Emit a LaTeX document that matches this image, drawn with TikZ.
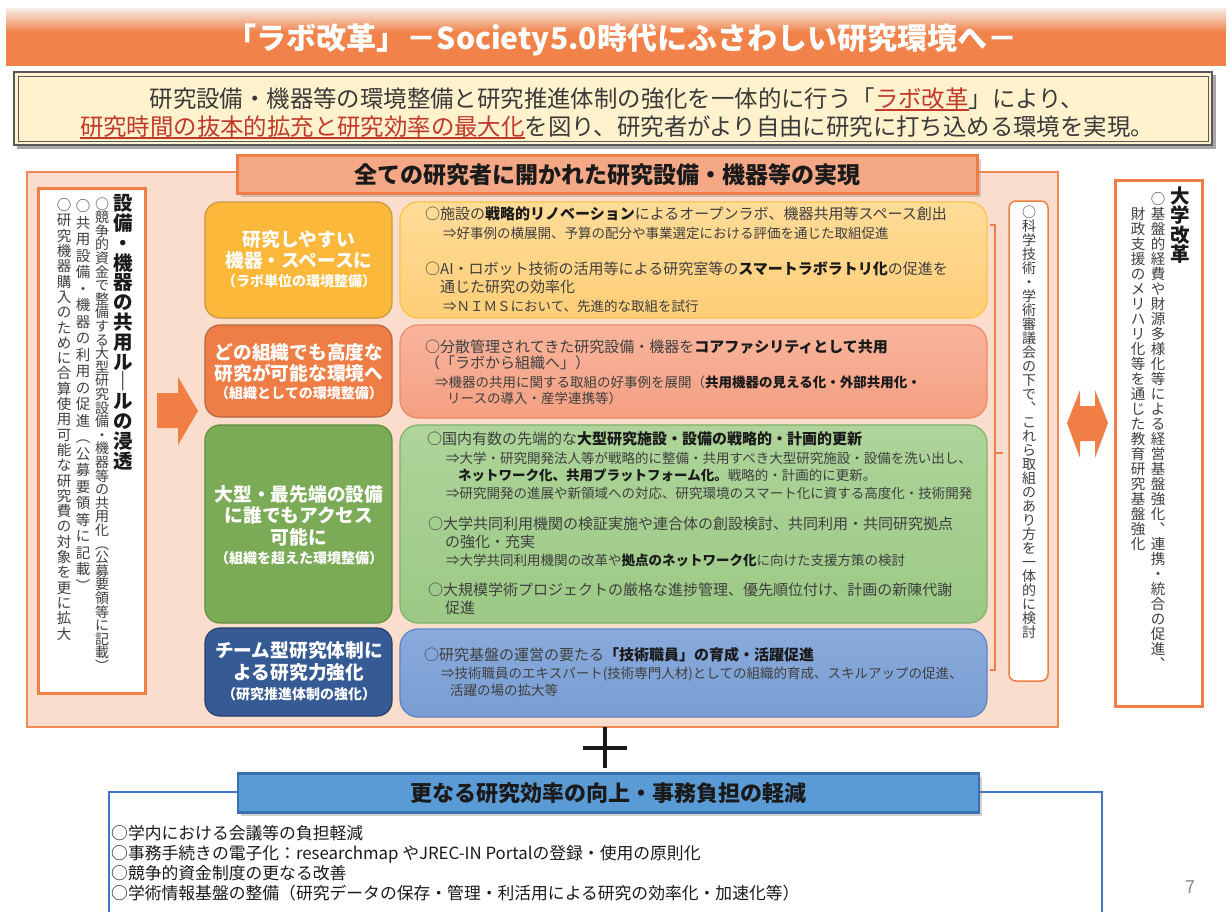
\documentclass[tikz,border=0pt]{standalone}
\usepackage{fontspec}
\setmainfont{Noto Sans CJK JP}
\usetikzlibrary{shadows}

\definecolor{titleor}{HTML}{F0824A}
\definecolor{titletop}{HTML}{F7EFEA}
\definecolor{subfill}{HTML}{FFF2CC}
\definecolor{subline}{HTML}{595959}
\definecolor{subred}{HTML}{C0392B}
\definecolor{subtxt}{HTML}{3A3A3A}
\definecolor{panelfill}{HTML}{FADDCD}
\definecolor{panelline}{HTML}{F08A55}
\definecolor{hdrfill}{HTML}{F4A886}
\definecolor{hdrline}{HTML}{EF7B45}
\definecolor{orline}{HTML}{F07E45}
\definecolor{lyel}{HTML}{FBB83A}\definecolor{lyelb}{HTML}{C9973A}
\definecolor{lorg}{HTML}{EF7D46}\definecolor{lorgb}{HTML}{B5653F}
\definecolor{lgrn}{HTML}{7BAB56}\definecolor{lgrnb}{HTML}{5E8C42}
\definecolor{lblu}{HTML}{355A94}\definecolor{lblub}{HTML}{243F6A}
\definecolor{ryelt}{HTML}{FFDC98}\definecolor{ryelbt}{HTML}{FFCE77}\definecolor{ryelb}{HTML}{FFC247}
\definecolor{rsalt}{HTML}{F8B59C}\definecolor{rsalbt}{HTML}{F49F82}\definecolor{rsalb}{HTML}{EE8B68}
\definecolor{rgrnt}{HTML}{AED49A}\definecolor{rgrnbt}{HTML}{9CC985}\definecolor{rgrnb}{HTML}{7FB366}
\definecolor{rblut}{HTML}{89AADB}\definecolor{rblubt}{HTML}{7A9ED3}\definecolor{rblub}{HTML}{5B84C4}
\definecolor{txtgray}{HTML}{3F3F3F}
\definecolor{txtdark}{HTML}{1A1A1A}
\definecolor{bhdrfill}{HTML}{5B9BD5}
\definecolor{bhdrline}{HTML}{3A6FB0}
\definecolor{bline}{HTML}{4472C4}
\definecolor{pagegray}{HTML}{8C8C8C}

% vertical (tategaki) stacking of characters
\newdimen\vtstep
\def\vtend{VTEND}
\def\vtchar#1{\hbox to\vtstep{\hss\vrule height .88\vtstep depth .12\vtstep width 0pt\relax #1\hss}}
\def\vtaux#1{\ifx#1\vtend\let\vtnext\relax\else\vtchar{#1}\let\vtnext\vtaux\fi\vtnext}
\newcommand\vtext[2]{\vtstep=#1\relax\vbox{\offinterlineskip\vtaux#2\vtend}}

\newcommand\bk[1]{{\bfseries\color{txtdark}#1}}
\newcommand\redul[1]{\setbox0=\hbox{\textcolor{subred}{#1}}\leavevmode\rlap{\textcolor{subred}{\rule[-0.14em]{\wd0}{0.07em}}}\box0}

\tikzset{
 rl/.style={anchor=base west, inner sep=0pt, text=txtgray, font=\fontsize{15}{18}\selectfont},
 rs/.style={rl, font=\fontsize{13.5}{16}\selectfont},
 wl/.style={inner sep=0pt, text=white, font=\bfseries\fontsize{18.7}{22}\selectfont},
 ws/.style={wl, font=\bfseries\fontsize{14}{17}\selectfont},
 vt/.style={anchor=north, inner sep=0pt, text=txtgray},
 bl/.style={anchor=base west, inner sep=0pt, text=txtdark, font=\fontsize{16.8}{20}\selectfont},
 subt/.style={inner sep=0pt, text=subtxt, font=\fontsize{23.4}{26}\selectfont},
 lbox/.style={line width=1.2pt, rounded corners=15pt},
 rbox/.style={line width=1.2pt, rounded corners=18pt},
 hshadow/.style={drop shadow={shadow xshift=3pt, shadow yshift=-3pt, opacity=0.35}},
}

\begin{document}
\begin{tikzpicture}[x=1pt,y=-1pt]
\useasboundingbox (0,0) rectangle (1229,911);
\fill[white] (0,0) rectangle (1229,911);

% ---- title bar
\shade[top color=titletop, bottom color=titleor] (6,8) rectangle (1226,32);
\fill[titleor] (6,31.5) rectangle (1226,66);
\node[inner sep=0pt, text=white, font=\bfseries\fontsize{30}{34}\selectfont] (title) at (622,40)
  {「ラボ改革」－Society5.0時代にふさわしい研究環境へ－};

% ---- subtitle box
\fill[black!35] (17,75) rectangle (1216,149);
\draw[subline, line width=2pt, fill=subfill] (14,72) rectangle (1212,145);
\draw[subline, line width=0.8pt] (18,76) rectangle (1208,141);
\node[subt] (sub1) at (617,99) {研究設備・機器等の環境整備と研究推進体制の強化を一体的に行う「\redul{ラボ改革}」により、};
\node[subt] (sub2) at (617,127) {\redul{研究時間の抜本的拡充と研究効率の最大化}を図り、研究者がより自由に研究に打ち込める環境を実現。};

% ---- main panel
\draw[panelline, line width=1.5pt, fill=panelfill] (27,172) rectangle (1058,727);
\node[draw=hdrline, line width=3pt, fill=hdrfill, minimum width=740pt, minimum height=38pt, hshadow,
      inner sep=0pt, text=txtdark, font=\bfseries\fontsize{23}{26}\selectfont] (hdr) at (607.5,174.5)
  {全ての研究者に開かれた研究設備・機器等の実現};

% ---- left vertical box
\draw[orline, line width=3pt, fill=white] (38,188) rectangle (145,693);
\node[vt, text=txtdark, font=\bfseries\fontsize{19.5}{20}\selectfont] (lvt0) at (123,193) {\vtext{19.8pt}{設備・機器の共用ル｜ルの浸透}};
\node[vt, font=\fontsize{14}{14}\selectfont] (lvt1) at (102,197) {\vtext{13.6pt}{○競争的資金で整備する大型研究設備・機器等の共用化︵公募要領等に記載︶}};
\node[vt, font=\fontsize{14.5}{15}\selectfont] (lvt2) at (83,197) {\vtext{16.5pt}{○共用設備・機器の利用の促進︵公募要領等に記載︶}};
\node[vt, font=\fontsize{14.5}{15}\selectfont] (lvt3) at (64,197) {\vtext{15.3pt}{○研究機器購入のために合算使用可能な研究費の対象を更に拡大}};

% arrow to the right
\fill[orline] (157,393) -- (178,393) -- (178,377) -- (198,411) -- (178,445) -- (178,428) -- (157,428) -- cycle;

% ---- left coloured boxes
\draw[lbox, draw=lyelb, fill=lyel] (205,202) rectangle (392,318);
\draw[lbox, draw=lorgb, fill=lorg] (205,325) rectangle (392,417);
\draw[lbox, draw=lgrnb, fill=lgrn] (205,425) rectangle (392,623);
\draw[lbox, draw=lblub, fill=lblu] (205,628) rectangle (392,716);

\node[wl] (y1) at (299,239) {研究しやすい};
\node[wl] (y2) at (299,260) {機器・スペースに};
\node[ws] (y3) at (299,281) {（ラボ単位の環境整備）};
\node[wl] (o1) at (299,352) {どの組織でも高度な};
\node[wl] (o2) at (299,373) {研究が可能な環境へ};
\node[ws] (o3) at (299,393) {（組織としての環境整備）};
\node[wl] (g1) at (299,494) {大型・最先端の設備};
\node[wl] (g2) at (299,515) {に誰でもアクセス};
\node[wl] (g3) at (299,537) {可能に};
\node[ws] (g4) at (299,558) {（組織を超えた環境整備）};
\node[wl] (b1) at (299,650) {チーム型研究体制に};
\node[wl] (b2) at (299,672) {よる研究力強化};
\node[ws] (b3) at (299,694) {（研究推進体制の強化）};

% ---- right content boxes
\shadedraw[rbox, top color=ryelt, bottom color=ryelbt, draw=ryelb] (400,202) rectangle (987,318);
\shadedraw[rbox, top color=rsalt, bottom color=rsalbt, draw=rsalb] (400,325) rectangle (987,418);
\shadedraw[rbox, top color=rgrnt, bottom color=rgrnbt, draw=rgrnb] (400,425) rectangle (987,623);
\shadedraw[rbox, top color=rblut, bottom color=rblubt, draw=rblub] (400,629) rectangle (987,717);

\node[rl] (ry1) at (425,219.7) {○施設の\bk{戦略的リノベーション}によるオープンラボ、機器共用等スペース創出};
\node[rs] (ry2) at (443,238.1) {⇒好事例の横展開、予算の配分や事業選定における評価を通じた取組促進};
\node[rl] (ry3) at (425,274.7) {○AI・ロボット技術の活用等による研究室等の\bk{スマートラボラトリ化}の促進を};
\node[rl] (ry4) at (440,292.7) {通じた研究の効率化};
\node[rs] (ry5) at (443,311.1) {⇒ＮＩＭＳにおいて、先進的な取組を試行};

\node[rl] (rs1) at (425,352.7) {○分散管理されてきた研究設備・機器を\bk{コアファシリティとして共用}};
\node[rl] (rs2) at (425,368.7) {（「ラボから組織へ」）};
\node[rs] (rs3) at (435,387.1) {⇒機器の共用に関する取組の好事例を展開（\bk{共用機器の見える化・外部共用化・}};
\node[rs] (rs4) at (447,403.1) {リースの導入・産学連携等）};

\node[rl] (rg1) at (427,444.7) {○国内有数の先端的な\bk{大型研究施設・設備の戦略的・計画的更新}};
\node[rs] (rg2) at (446,463.1) {⇒大学・研究開発法人等が戦略的に整備・共用すべき大型研究施設・設備を洗い出し、};
\node[rs] (rg3) at (458,480.1) {\bk{ネットワーク化、共用プラットフォーム化。}戦略的・計画的に更新。};
\node[rs] (rg4) at (446,498.1) {⇒研究開発の進展や新領域への対応、研究環境のスマート化に資する高度化・技術開発};
\node[rl] (rg5) at (428,529.7) {○大学共同利用機関の検証実施や連合体の創設検討、共同利用・共同研究拠点};
\node[rl] (rg6) at (445,547.7) {の強化・充実};
\node[rs] (rg7) at (446,565.1) {⇒大学共同利用機関の改革や\bk{拠点のネットワーク化}に向けた支援方策の検討};
\node[rl] (rg8) at (428,595.7) {○大規模学術プロジェクトの厳格な進捗管理、優先順位付け、計画の新陳代謝};
\node[rl] (rg9) at (445,613.7) {促進};

\node[rl] (rb1) at (424,660.7) {○研究基盤の運営の要たる\bk{「技術職員」の育成・活躍促進}};
\node[rs] (rb2) at (441,678.1) {⇒技術職員のエキスパート(技術専門人材)としての組織的育成、スキルアップの促進、};
\node[rs] (rb3) at (450,695.1) {活躍の場の拡大等};

% ---- bracket
\draw[orline, line width=1.2pt] (990,225) -- (995,225) -- (995,670) -- (990,670);
\draw[orline, line width=1.2pt] (995,453) -- (1003,453);

% ---- middle vertical box
\draw[orline, line width=1.5pt, fill=white, rounded corners=7pt] (1009,201) rectangle (1048,681);
\node[vt, font=\fontsize{14}{14}\selectfont] (mvt) at (1029,205) {\vtext{14pt}{○科学技術・学術審議会の下で︑これら取組のあり方を一体的に検討}};

% ---- double arrow
\fill[orline] (1067,423) -- (1080,390) -- (1080,406) -- (1095,406) -- (1095,390) -- (1108,423)
  -- (1095,458) -- (1095,441) -- (1080,441) -- (1080,458) -- cycle;

% ---- right vertical box
\draw[orline, line width=3pt, fill=white] (1115,180) rectangle (1202,706);
\node[vt, text=txtdark, font=\bfseries\fontsize{19.5}{20}\selectfont] (rvt0) at (1180,186) {\vtext{19.5pt}{大学改革}};
\node[vt, font=\fontsize{14.5}{15}\selectfont] (rvt1) at (1158,191) {\vtext{15pt}{○基盤的経費や財源多様化等による経営基盤強化︑連携・統合の促進︑}};
\node[vt, font=\fontsize{14.5}{15}\selectfont] (rvt2) at (1138,206) {\vtext{15pt}{財政支援のメリハリ化等を通じた教育研究基盤強化}};

% ---- plus sign
\draw[txtdark, line width=4pt] (605,727) -- (605,768);
\draw[txtdark, line width=4pt] (583,748) -- (627,748);

% ---- bottom box
\draw[bline, line width=1.2pt] (109,912) -- (109,792) -- (1102,792) -- (1102,912);
\node[draw=bhdrline, line width=2.5pt, fill=bhdrfill, minimum width=741pt, minimum height=39pt, hshadow,
      inner sep=0pt, text=txtdark, font=\bfseries\fontsize{22}{25}\selectfont] (bhdr) at (608.5,793)
  {更なる研究効率の向上・事務負担の軽減};
\node[bl] (bt1) at (111,839.4) {○学内における会議等の負担軽減};
\node[bl] (bt2) at (111,859.4) {○事務手続きの電子化：researchmap やJREC-IN Portalの登録・使用の原則化};
\node[bl] (bt3) at (111,879.4) {○競争的資金制度の更なる改善};
\node[bl] (bt4) at (111,899.4) {○学術情報基盤の整備（研究データの保存・管理・利活用による研究の効率化・加速化等）};

\node[inner sep=0pt, text=pagegray, font=\fontsize{18}{20}\selectfont] (pg) at (1190,887) {7};
\end{tikzpicture}
\end{document}
